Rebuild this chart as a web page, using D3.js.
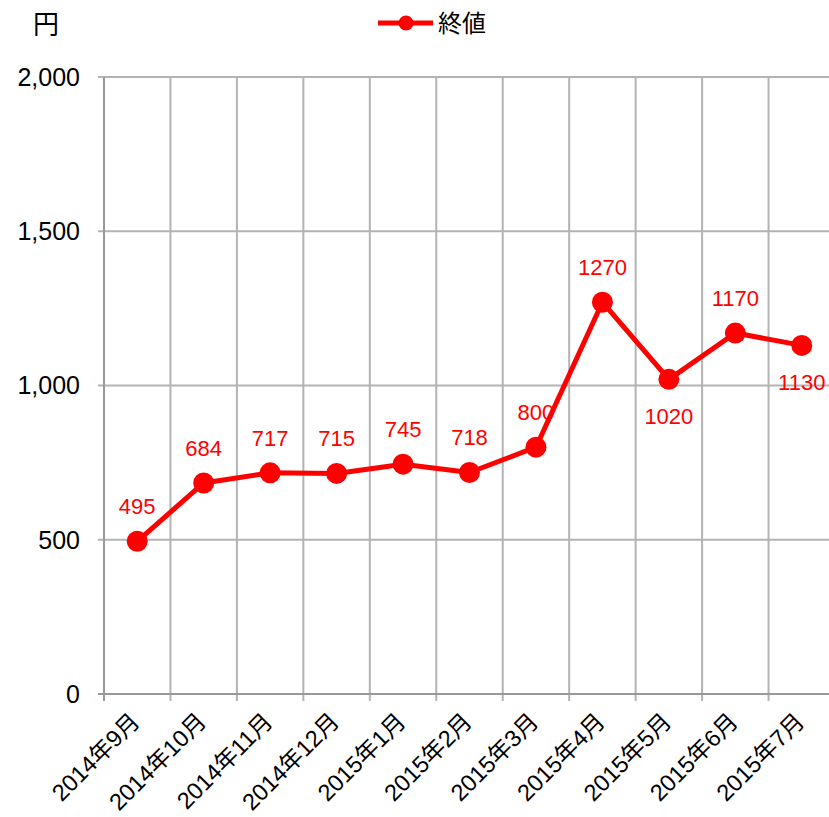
<!DOCTYPE html>
<html><head><meta charset="utf-8">
<script src="https://cdn.jsdelivr.net/npm/d3@7"></script>
<style>body{margin:0;background:#fff}svg{display:block}</style>
</head><body>
<script>
const categories = ["2014年9月","2014年10月","2014年11月","2014年12月","2015年1月","2015年2月","2015年3月","2015年4月","2015年5月","2015年6月","2015年7月"];
const values = [495,684,717,715,745,718,800,1270,1020,1170,1130];
const labelBelow = [false,false,false,false,false,false,false,false,true,false,true];
const yTicks = [0,500,1000,1500,2000];
const seriesName = "終値";
const unitLabel = "円";

const W = 829, H = 817;
const font = "'Liberation Sans', Arial, 'Noto Sans CJK JP', sans-serif";
const svg = d3.select("body").append("svg").attr("width", W).attr("height", H);

const x = d3.scaleBand().domain(categories).range([104, 835]);
const y = d3.scaleLinear().domain([0, 2000]).range([694, 77]);

// horizontal gridlines
svg.append("g").selectAll("line").data(yTicks).join("line")
  .attr("x1", 98).attr("x2", W).attr("y1", d => y(d)).attr("y2", d => y(d))
  .attr("stroke", "#b3b3b3").attr("stroke-width", 2);
// vertical gridlines at category boundaries
const bounds = categories.map(c => x(c)).concat([x.range()[1]]);
svg.append("g").selectAll("line").data(bounds.slice(1)).join("line")
  .attr("x1", d => d).attr("x2", d => d).attr("y1", y(2000)).attr("y2", 701)
  .attr("stroke", "#b3b3b3").attr("stroke-width", 2);
// axis lines
svg.append("line").attr("x1", 104).attr("x2", 104).attr("y1", y(2000)).attr("y2", 701)
  .attr("stroke", "#999").attr("stroke-width", 2);
svg.append("line").attr("x1", 98).attr("x2", W).attr("y1", y(0)).attr("y2", y(0))
  .attr("stroke", "#999").attr("stroke-width", 2);

// y labels
svg.append("g").selectAll("text").data(yTicks).join("text")
  .attr("x", 80).attr("y", d => y(d)).attr("dy", "0.35em")
  .attr("text-anchor", "end").attr("font-family", font).attr("font-size", 25)
  .attr("fill", "#000").text(d => d3.format(",")(d));

// x labels
svg.append("g").selectAll("text").data(categories).join("text")
  .attr("transform", d => `translate(${x(d) + x.bandwidth()/2 + 4},${723}) rotate(-45)`)
  .attr("text-anchor", "end").attr("font-family", font).attr("font-size", 23.5)
  .attr("fill", "#000").text(d => d);

// unit
svg.append("text").attr("x", 46).attr("y", 34).attr("text-anchor", "middle")
  .attr("font-family", font).attr("font-size", 26).attr("fill", "#000").text(unitLabel);

// legend
svg.append("line").attr("x1", 378).attr("x2", 433).attr("y1", 23).attr("y2", 23)
  .attr("stroke", "#ff0000").attr("stroke-width", 5);
svg.append("circle").attr("cx", 406).attr("cy", 23).attr("r", 7.5).attr("fill", "#ff0000");
svg.append("text").attr("x", 438).attr("y", 32).attr("font-family", font)
  .attr("font-size", 24).attr("fill", "#000").text(seriesName);

const pts = categories.map((c, i) => ({c, v: values[i], below: labelBelow[i]}));
const cx = d => x(d.c) + x.bandwidth()/2;

// data labels
svg.append("g").selectAll("text").data(pts).join("text")
  .attr("x", cx).attr("y", d => d.below ? y(d.v) + 45 : y(d.v) - 27)
  .attr("text-anchor", "middle").attr("font-family", font).attr("font-size", 22)
  .attr("fill", "#ff0000").text(d => d.v);

// line
svg.append("path").datum(pts)
  .attr("d", d3.line().x(cx).y(d => y(d.v)))
  .attr("fill", "none").attr("stroke", "#ff0000").attr("stroke-width", 5)
  .attr("stroke-linejoin", "round");
svg.append("g").selectAll("circle").data(pts).join("circle")
  .attr("cx", cx).attr("cy", d => y(d.v)).attr("r", 10.5).attr("fill", "#ff0000");
</script>
</body></html>
